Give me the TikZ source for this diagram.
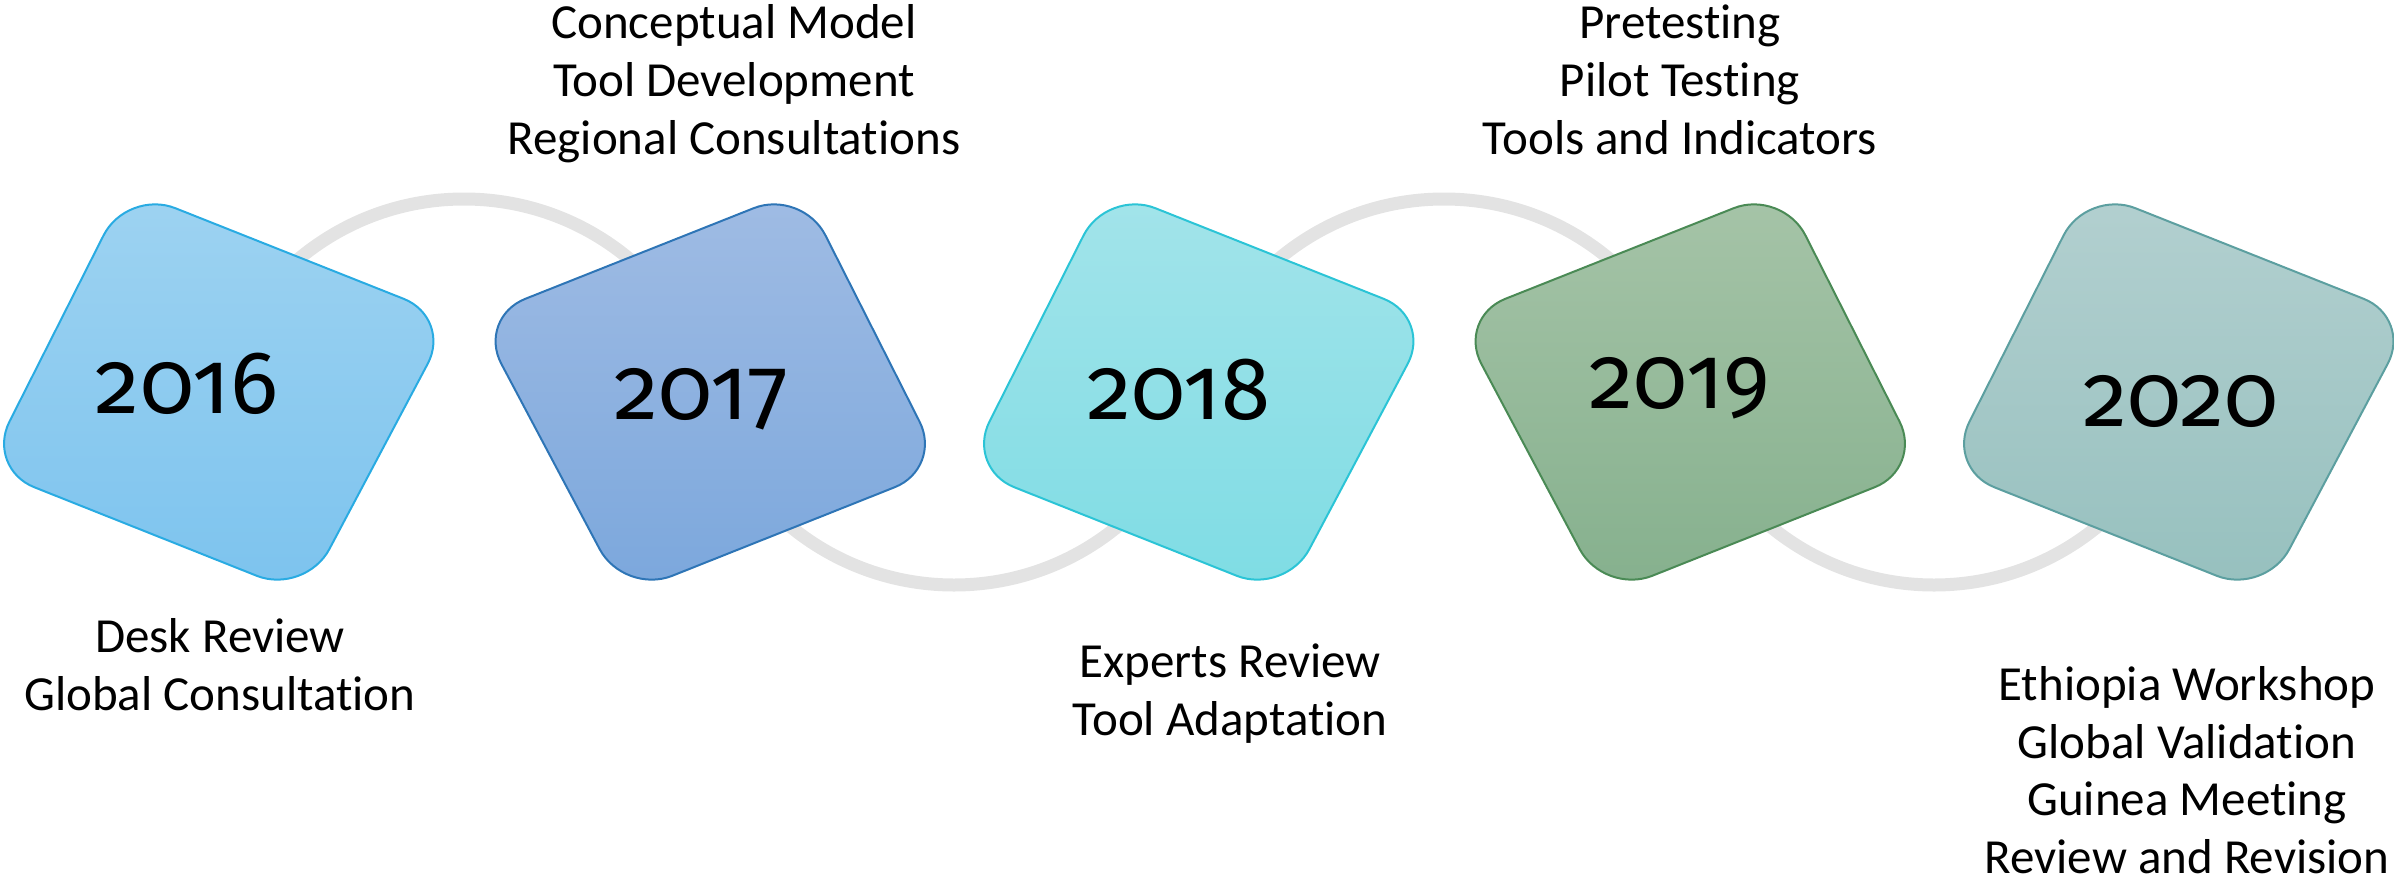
\documentclass[tikz,border=0pt]{standalone}
\usepackage{fontspec}
\setmainfont[Ligatures=NoCommon]{Carlito}
\newfontfamily\yearfont[Numbers=OldStyle]{Fira Sans}
\definecolor{ringgray}{HTML}{E3E3E3}
\definecolor{bda}{HTML}{29ABE2}\definecolor{tpa}{HTML}{9ED3F1}\definecolor{bta}{HTML}{7CC3EE}
\definecolor{bdb}{HTML}{2E75B6}\definecolor{tpb}{HTML}{A0BCE4}\definecolor{btb}{HTML}{7BA7DC}
\definecolor{bdc}{HTML}{2BC4D6}\definecolor{tpc}{HTML}{A3E4EA}\definecolor{btc}{HTML}{7EDCE4}
\definecolor{bdd}{HTML}{4A8A55}\definecolor{tpd}{HTML}{A6C4A8}\definecolor{btd}{HTML}{85B08D}
\definecolor{bde}{HTML}{5C9FA0}\definecolor{tpe}{HTML}{B3D0D0}\definecolor{bte}{HTML}{96C0BE}
\begin{document}
\begin{tikzpicture}[x=1pt,y=-1pt,
  ring/.style={line width=13pt, draw=ringgray},
  yearbox/.style={line width=2pt, rounded corners=52pt},
  lab/.style={font=\fontsize{49}{58}\selectfont, inner sep=0pt, anchor=base},
  yr/.style={font=\yearfont\fontsize{89}{100}\selectfont, inner sep=0pt, anchor=base}]
\useasboundingbox (0,0) rectangle (2394,881);
\clip (0,0) rectangle (2394,881);
% connector arcs
\coordinate (a1) at (206,457);
\coordinate (a2) at (1212,327);
\coordinate (a3) at (1186,457);
\coordinate (a4) at (2192,327);
\draw[ring] (a1) arc[start angle=180, end angle=360, radius=258];
\draw[ring] (a2) arc[start angle=0, end angle=180, radius=258];
\draw[ring] (a3) arc[start angle=180, end angle=360, radius=258];
\draw[ring] (a4) arc[start angle=0, end angle=180, radius=258];
% boxes
\path[yearbox, draw=bda, top color=tpa, bottom color=bta] (127,189) -- (452,318) -- (305,595) -- (-14,468) -- cycle;
\path[yearbox, draw=bdb, top color=tpb, bottom color=btb] (802,189) -- (943,468) -- (624,595) -- (477,318) -- cycle;
\path[yearbox, draw=bdc, top color=tpc, bottom color=btc] (1107,189) -- (1432,318) -- (1285,595) -- (966,468) -- cycle;
\path[yearbox, draw=bdd, top color=tpd, bottom color=btd] (1782,189) -- (1923,468) -- (1604,595) -- (1457,318) -- cycle;
\path[yearbox, draw=bde, top color=tpe, bottom color=bte] (2087,189) -- (2412,318) -- (2265,595) -- (1946,468) -- cycle;
% years
\node[yr] (y16) at (187,413) {2016};
\node[yr] (y17) at (701,419) {2017};
\node[yr] (y18) at (1179,419) {2018};
\node[yr] (y19) at (1680,408) {2019};
\node[yr] (y20) at (2181,426) {2020};
% labels
\node[lab] (l16a) at (220,652) {Desk Review};
\node[lab] (l16b) at (220,710) {Global Consultation};
\node[lab] (l17a) at (734,38) {Conceptual Model};
\node[lab] (l17b) at (734,96) {Tool Development};
\node[lab] (l17c) at (734,154) {Regional Consultations};
\node[lab] (l18a) at (1230,677) {Experts Review};
\node[lab] (l18b) at (1230,735) {Tool Adaptation};
\node[lab] (l19a) at (1680,38) {Pretesting};
\node[lab] (l19b) at (1680,96) {Pilot Testing};
\node[lab] (l19c) at (1680,154) {Tools and Indicators};
\node[lab] (l20a) at (2187,700) {Ethiopia Workshop};
\node[lab] (l20b) at (2187,758) {Global Validation};
\node[lab] (l20c) at (2187,815) {Guinea Meeting};
\node[lab] (l20d) at (2187,873) {Review and Revision};
\end{tikzpicture}
\end{document}
